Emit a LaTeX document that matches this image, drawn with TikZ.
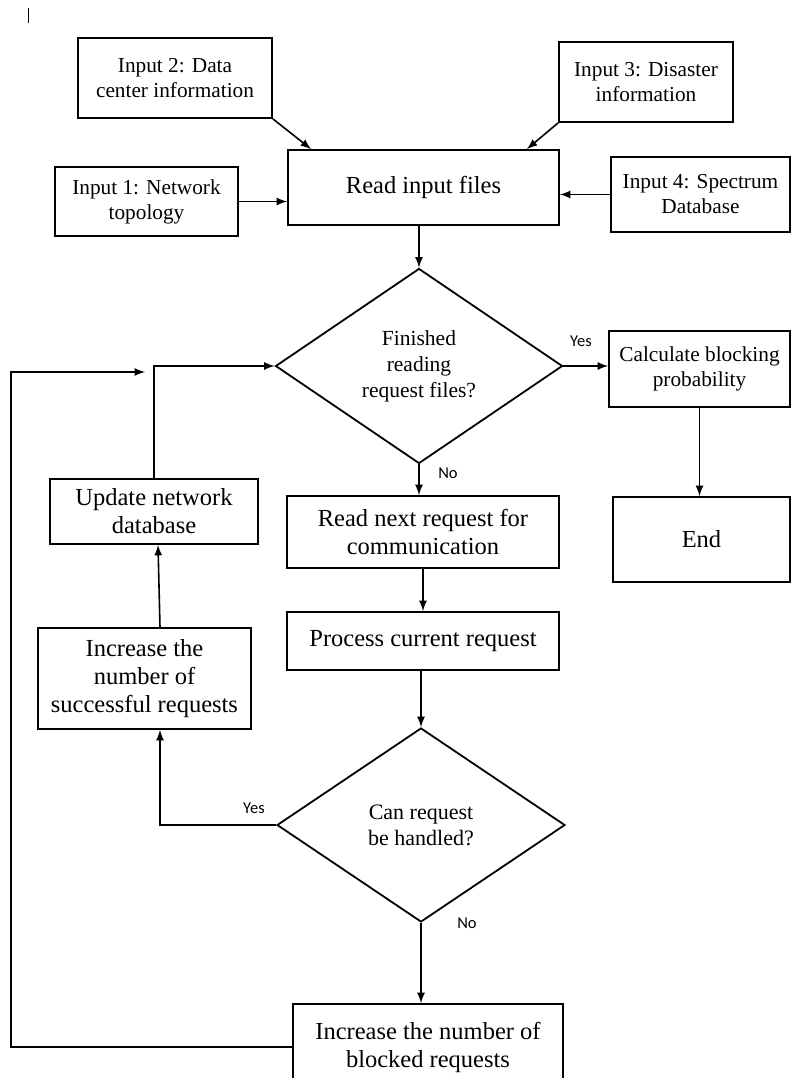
\documentclass[tikz,border=0pt]{standalone}
\usepackage{fontspec}
\setmainfont{Liberation Serif}
\newfontfamily\answerfont{Carlito}
\usetikzlibrary{shapes.geometric}
\tikzset{
	box/.style={draw,line width=0.9pt,align=center,inner sep=0pt,font=\fontsize{12.25}{14}\selectfont},
	inbox/.style={box,font=\fontsize{10.65}{12.5}\selectfont},
	query/.style={draw,diamond,line width=0.9pt,align=center,inner sep=0pt,font=\fontsize{10.75}{13}\selectfont},
	flow/.style={line width=0.8pt,-latex},
	answer/.style={inner sep=0pt,font=\answerfont\fontsize{8.25}{10}\selectfont}
}
\begin{document}
\begin{tikzpicture}[x=0.5pt,y=-0.5pt]
	\useasboundingbox (0,0) rectangle (792,1078);
	\clip (0,0) rectangle (792,1078);
	\draw[line width=0.5pt] (28,8) -- (28,23);
	\node[inbox,minimum width=97pt,minimum height=40pt] (in2) at (175,78) {Input 2: Data\\center information};
	\node[inbox,minimum width=91.5pt,minimum height=34.5pt] (in1) at (146.5,201.5) {Input 1: Network\\topology};
	\node[box,minimum width=135.5pt,minimum height=37.5pt] (read) at (423.5,187.5) {Read input files};
	\node[inbox,minimum width=87pt,minimum height=40pt] (in3) at (646,82) {Input 3: Disaster\\information};
	\node[inbox,minimum width=89.5pt,minimum height=37.5pt] (in4) at (700.5,194.5) {Input 4: Spectrum\\Database};
	\node[query,minimum width=143.5pt,minimum height=97.5pt] (finished) at (419,366) {Finished\\reading\\request files?};
	\node[inbox,minimum width=90.5pt,minimum height=38pt] (calc) at (699.5,369) {Calculate blocking\\probability};
	\node[box,minimum width=88.5pt,minimum height=42.5pt] (end) at (701.5,539.5) {End};
	\node[box,minimum width=136pt,minimum height=36pt] (next) at (423,532) {Read next request for\\communication};
	\node[box,minimum width=136pt,minimum height=29pt] (proc) at (423,641) {Process current request};
	\node[query,minimum width=144pt,minimum height=97pt,font=\fontsize{11}{13}\selectfont] (handled) at (421,825) {Can request\\be handled?};
	\node[box,minimum width=104pt,minimum height=32.5pt] (upd) at (154,511.5) {Update network\\database};
	\node[box,minimum width=106.5pt,minimum height=50.5pt] (succ) at (144.5,678.5) {Increase the\\number of\\successful requests};
	\node[box,minimum width=135pt,minimum height=43pt] (blk) at (428,1047) {Increase the number of\\blocked requests};
	\node[answer] (yes1) at (581,341) {Yes};
	\node[answer] (no1) at (448,473) {No};
	\node[answer] (yes2) at (254,808) {Yes};
	\node[answer] (no2) at (467,923) {No};
	\coordinate (side) at (11,372);
	\coordinate (loop) at (145,372);
	\draw[flow] (in2.south east) -- ([xshift=12pt]read.north west);
	\draw[flow] (in3.south west) -- ([xshift=-16.5pt]read.north east);
	\draw[flow] (in1.east) -- (in1.east -| read.west);
	\draw[flow] (in4.west) -- (in4.west -| read.east);
	\draw[flow] (finished.north |- read.south) -- (finished.north);
	\draw[flow] (finished.east) -- (finished.east -| calc.west);
	\draw[flow] (calc.south) -- (calc.south |- end.north);
	\draw[flow] (finished.south) -- (finished.south |- next.north);
	\draw[flow] (next.south) -- (proc.north);
	\draw[flow] (proc.south -| handled.north) -- (handled.north);
	\draw[flow] (handled.west) -| ([xshift=7.75pt]succ.south);
	\draw[flow] ([xshift=7.75pt]succ.north) -- ([xshift=2pt]upd.south);
	\draw[flow] (upd.north) |- (finished.west);
	\draw[flow] (handled.south) -- (handled.south |- blk.north);
	\draw[flow] (blk.west) -| (side) -- (loop);
\end{tikzpicture}
\end{document}
